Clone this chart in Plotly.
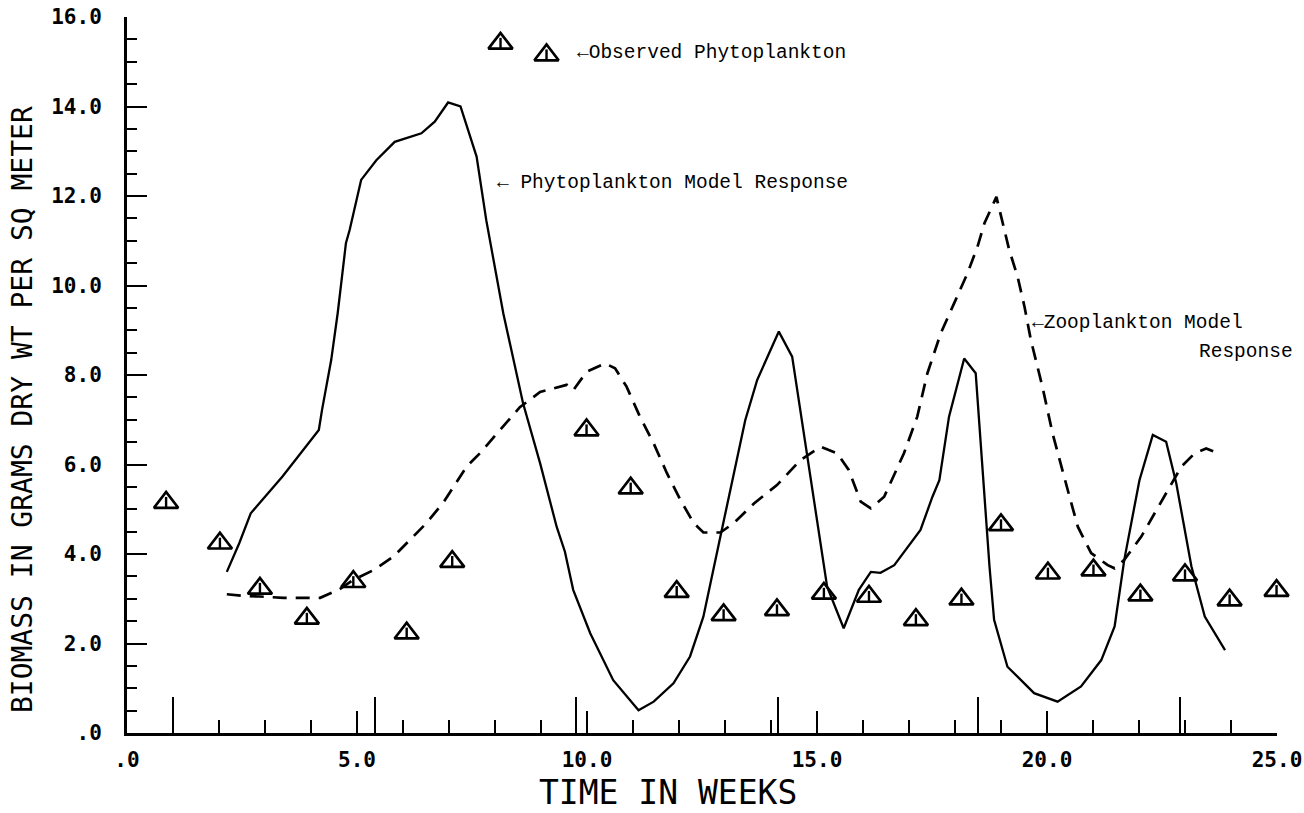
import plotly.graph_objects as go

# ---------------- data ----------------
phyto_model_weeks = [2.17, 2.44, 2.69, 2.87, 3.38, 4.17, 4.24, 4.44, 4.58, 4.76, 4.84, 5.09, 5.42,
                     5.82, 6.40, 6.69, 6.98, 7.25, 7.60, 7.81, 8.18, 8.61, 8.98, 9.34, 9.52, 9.70,
                     10.07, 10.57, 11.12, 11.45, 11.88, 12.24, 12.53, 12.90, 13.19, 13.44, 13.70,
                     14.17, 14.46, 14.68, 15.22, 15.58, 15.91, 16.17, 16.38, 16.68, 17.25, 17.51,
                     17.66, 17.87, 18.20, 18.45, 18.49, 18.64, 18.75, 18.85, 19.14, 19.72, 20.23,
                     20.74, 21.18, 21.47, 21.68, 22.01, 22.30, 22.59, 22.81, 23.14, 23.43, 23.87]
phyto_model_values = [3.60, 4.24, 4.91, 5.13, 5.73, 6.77, 7.22, 8.34, 9.38, 10.95, 11.24, 12.36, 12.80,
                      13.21, 13.40, 13.66, 14.09, 14.00, 12.88, 11.46, 9.38, 7.37, 6.03, 4.61, 4.05, 3.20,
                      2.23, 1.18, 0.51, 0.70, 1.11, 1.71, 2.60, 4.39, 5.80, 6.99, 7.89,
                      8.97, 8.41, 6.92, 3.27, 2.34, 3.20, 3.60, 3.58, 3.75, 4.54, 5.28,
                      5.65, 7.07, 8.37, 8.04, 7.44, 5.21, 3.72, 2.53, 1.48, 0.89, 0.70,
                      1.04, 1.63, 2.38, 3.87, 5.65, 6.66, 6.51, 5.58, 3.72, 2.60, 1.85]

zoo_model_weeks = [2.17, 2.60, 2.89, 3.40, 4.20, 4.60, 4.92, 5.36, 5.79, 6.15, 6.51, 6.89, 7.38,
                   7.67, 8.10, 8.54, 8.98, 9.56, 9.70, 9.99, 10.39, 10.61, 10.86, 11.15, 11.45,
                   11.74, 12.03, 12.32, 12.53, 12.90, 13.19, 13.63, 14.13, 14.64, 15.08, 15.44,
                   15.69, 15.95, 16.17, 16.46, 16.89, 17.18, 17.40, 17.69, 17.98, 18.27, 18.49,
                   18.64, 18.90, 19.02, 19.18, 19.36, 19.51, 19.65, 19.90, 20.12, 20.31, 20.49,
                   20.67, 20.96, 21.32, 21.47, 21.68, 22.05, 22.34, 22.63, 22.92, 23.21, 23.46, 23.72]
zoo_model_values = [3.10, 3.06, 3.05, 3.02, 3.02, 3.20, 3.42, 3.64, 3.94, 4.31, 4.69, 5.17, 5.95,
                    6.25, 6.77, 7.28, 7.62, 7.78, 7.66, 8.07, 8.26, 8.15, 7.74, 7.07, 6.47,
                    5.80, 5.21, 4.69, 4.48, 4.48, 4.69, 5.13, 5.54, 6.10, 6.40, 6.25,
                    5.88, 5.17, 5.02, 5.28, 6.25, 7.07, 8.04, 8.93, 9.60, 10.27, 10.87,
                    11.39, 11.98, 11.46, 10.79, 10.20, 9.53, 8.78, 7.74, 6.70, 5.95, 5.28,
                    4.61, 4.02, 3.75, 3.68, 3.87, 4.39, 4.91, 5.43, 5.95, 6.25, 6.36, 6.25]

obs_weeks = [0.85, 2.02, 2.89, 3.91, 4.92, 6.08, 7.07, 8.12, 9.12, 9.99, 10.95, 11.95, 12.97,
             14.13, 15.15, 16.13, 17.15, 18.14, 19.00, 20.02, 21.01, 22.03, 23.00, 23.97, 24.99]
obs_values = [5.15, 4.24, 3.23, 2.56, 3.38, 2.23, 3.83, 15.41, 15.15, 6.77, 5.47, 3.16, 2.64,
              2.75, 3.12, 3.05, 2.53, 2.99, 4.65, 3.57, 3.64, 3.08, 3.53, 2.97, 3.18]

x_tick_vals = [0, 5, 10, 15, 20, 25]
x_tick_text = [".0", "5.0", "10.0", "15.0", "20.0", "25.0"]
y_tick_vals = [0, 2, 4, 6, 8, 10, 12, 14, 16]
y_tick_text = [".0", "2.0", "4.0", "6.0", "8.0", "10.0", "12.0", "14.0", "16.0"]
month_ticks = [1.0, 5.4, 9.75, 14.15, 18.5, 22.9]

x_title = "TIME IN WEEKS"
y_title = "BIOMASS IN GRAMS DRY WT PER SQ METER"

# ---------------- figure ----------------
BLACK = "#000000"
TICKFONT = dict(family="DejaVu Sans Mono", size=21, color=BLACK, weight="bold")
TITLEFONT = "DejaVu Sans Mono"
NOTEFONT = dict(family="Liberation Mono", size=19.5, color=BLACK)

fig = go.Figure()

fig.add_trace(go.Scatter(x=phyto_model_weeks, y=phyto_model_values, mode="lines",
                         line=dict(color=BLACK, width=2.3), showlegend=False, hoverinfo="skip"))
fig.add_trace(go.Scatter(x=zoo_model_weeks, y=zoo_model_values, mode="lines",
                         line=dict(color=BLACK, width=2.7, dash="14px,9px"), showlegend=False,
                         hoverinfo="skip"))
fig.add_trace(go.Scatter(x=obs_weeks, y=obs_values, mode="markers",
                         marker=dict(symbol="triangle-up-open", size=21, color=BLACK,
                                     line=dict(color=BLACK, width=2.7)),
                         cliponaxis=False, showlegend=False))
fig.add_trace(go.Scatter(x=obs_weeks, y=obs_values, mode="markers",
                         marker=dict(symbol="line-ns-open", size=8, color=BLACK,
                                     line=dict(color=BLACK, width=2.4)),
                         cliponaxis=False, showlegend=False, hoverinfo="skip"))
# invisible trace on the overlaying axis that carries the monthly tall ticks
fig.add_trace(go.Scatter(x=[0, 25], y=[0, 0], mode="markers", marker=dict(opacity=0),
                         xaxis="x2", showlegend=False, hoverinfo="skip"))

fig.update_layout(
    width=1304, height=813,
    margin=dict(l=127, r=27, t=17, b=80, autoexpand=False),
    paper_bgcolor="white", plot_bgcolor="white",
    xaxis=dict(range=[0, 25], tickvals=x_tick_vals, ticktext=x_tick_text,
               ticks="inside", ticklen=22, tickwidth=2.2, tickcolor=BLACK,
               minor=dict(dtick=1, tick0=0, ticks="inside", ticklen=13, tickwidth=2.2,
                          tickcolor=BLACK, showgrid=False),
               showline=True, linecolor=BLACK, linewidth=3, showgrid=False, zeroline=False,
               tickfont=TICKFONT, ticklabelstandoff=6, ticklabeloverflow="allow",
               automargin=False, fixedrange=True),
    xaxis2=dict(range=[0, 25], overlaying="x", side="bottom", anchor="y",
                tickvals=month_ticks, ticks="inside", ticklen=36, tickwidth=2.2,
                tickcolor=BLACK, showticklabels=False, showline=False, showgrid=False,
                zeroline=False, automargin=False),
    yaxis=dict(range=[0, 16], tickvals=y_tick_vals, ticktext=y_tick_text,
               ticks="inside", ticklen=20, tickwidth=2.4, tickcolor=BLACK,
               minor=dict(dtick=0.5, tick0=0, ticks="inside", ticklen=10, tickwidth=2.2,
                          tickcolor=BLACK, showgrid=False),
               showline=True, linecolor=BLACK, linewidth=3, showgrid=False, zeroline=False,
               tickfont=TICKFONT, ticklabelstandoff=18, ticklabeloverflow="allow",
               automargin=False, fixedrange=True),
    annotations=[
        dict(text=x_title, xref="paper", yref="paper", x=0.470, y=-0.1131,
             xanchor="center", yanchor="bottom", showarrow=False,
             font=dict(family=TITLEFONT, size=33, color=BLACK)),
        dict(text=y_title, xref="paper", yref="paper", x=-0.0913, y=0.451,
             xanchor="center", yanchor="middle", showarrow=False, textangle=-90,
             font=dict(family=TITLEFONT, size=28, color=BLACK)),
        dict(text="\u2190Observed Phytoplankton", x=9.74, y=15.2, xanchor="left",
             yanchor="middle", showarrow=False, font=NOTEFONT),
        dict(text="\u2190 Phytoplankton Model Response", x=8.0, y=12.29, xanchor="left",
             yanchor="middle", showarrow=False, font=NOTEFONT),
        dict(text="\u2190Zooplankton Model", x=19.63, y=9.16, xanchor="left",
             yanchor="middle", showarrow=False, font=NOTEFONT),
        dict(text="Response", x=23.26, y=8.51, xanchor="left",
             yanchor="middle", showarrow=False, font=NOTEFONT),
    ],
)

fig.write_html("out.html", config={"displayModeBar": False},
               post_script="document.body.style.margin='0';")
